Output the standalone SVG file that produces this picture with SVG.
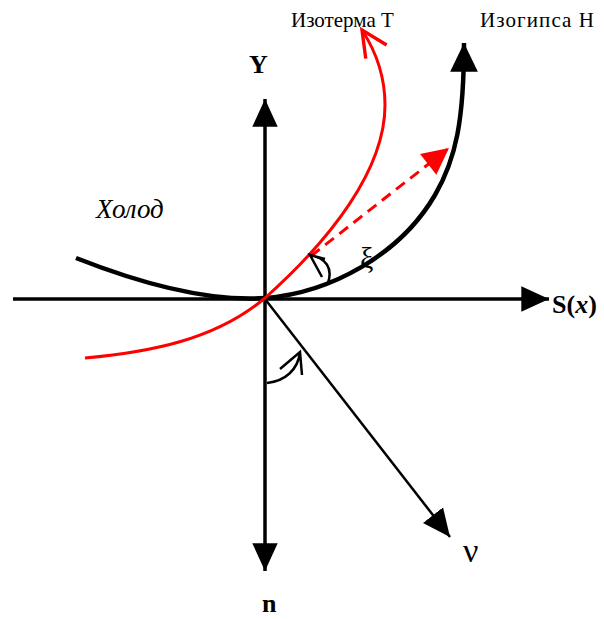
<svg xmlns="http://www.w3.org/2000/svg" width="604" height="619" viewBox="0 0 604 619">
<style>
.ax{stroke:#000;stroke-width:3.5;fill:none}
.blk{stroke:#000;stroke-width:4.5;fill:none}
.red{stroke:#ff0000;stroke-width:3;fill:none}
.dash{stroke:#ff0000;stroke-width:3;fill:none;stroke-dasharray:11 7}
.thin{stroke:#000;stroke-width:2.5;fill:none}
.ang{stroke:#000;stroke-width:2.5;fill:none;stroke-linejoin:miter}
.t{font-family:"Liberation Serif","Times New Roman",serif;fill:#000}
</style>
<defs>
<marker id="ah" markerUnits="userSpaceOnUse" markerWidth="30" markerHeight="30" viewBox="-24 -12 26 24" refX="0" refY="0" orient="auto">
<path d="M0,0 L-24,-11 L-24,11 Z" fill="#000"/>
</marker>
<marker id="ahBig" markerUnits="userSpaceOnUse" markerWidth="32" markerHeight="32" viewBox="-28 -14 30 28" refX="0" refY="0" orient="auto">
<path d="M0,0 L-27,-13 L-27,13 Z" fill="#000"/>
</marker>
<marker id="ahRed" markerUnits="userSpaceOnUse" markerWidth="30" markerHeight="30" viewBox="-23 -12 25 24" refX="0" refY="0" orient="auto">
<path d="M0,0 L-22,-11 L-22,11 Z" fill="#ff0000"/>
</marker>
<marker id="ahOpenRed" markerUnits="userSpaceOnUse" markerWidth="34" markerHeight="34" viewBox="-26 -14 30 28" refX="0" refY="0" orient="auto">
<path d="M-23,-11 L0,0 L-23,11" fill="none" stroke="#ff0000" stroke-width="3"/>
</marker>
</defs>
<g id="connectors">
<line id="axis-x" class="ax" x1="13" y1="299" x2="549" y2="299" marker-end="url(#ah)"/>
<line id="axis-y" class="ax" x1="265" y1="299" x2="265" y2="99" marker-end="url(#ah)"/>
<line id="axis-n" class="ax" x1="265" y1="299" x2="265" y2="571" marker-end="url(#ah)"/>
<line id="nu-line" class="thin" x1="265" y1="299" x2="450" y2="537" marker-end="url(#ah)"/>
<path id="isogypse" class="blk" d="M76,258 Q190,303 265,298 C330,293 400,255 435,195 C456,159 464,120 464,43" marker-end="url(#ahBig)"/>
<path id="isotherm" class="red" d="M85,358 C150,352 215,340 265,298 C330,240 385,170 385,105 C385,75 375,50 362,30" marker-end="url(#ahOpenRed)"/>
<line id="tangent" class="dash" x1="311" y1="256" x2="449" y2="148" marker-end="url(#ahRed)"/>
<path id="angle-xi" class="ang" d="M328,283 C333,268 326,258 310,255 M325,259 L310,255 L322,277"/>
<path id="angle-nu" class="ang" d="M267,383 C285,381 298,370 300,352 M280,369 L300,352 L302,375"/>
</g>
<g id="label-Y"><text class="t" x="249" y="73" font-size="26" font-weight="bold">Y</text></g>
<g id="label-n"><text class="t" x="262" y="612" font-size="26" font-weight="bold">n</text></g>
<g id="label-S"><text class="t" x="552" y="313" font-size="26" font-weight="bold">S(<tspan font-style="italic">x</tspan>)</text></g>
<g id="label-nu"><text class="t" x="463" y="562" font-size="34">ν</text></g>
<g id="label-xi"><text class="t" x="360" y="268" font-size="30">ξ</text></g>
<g id="label-holod"><text class="t" x="96" y="218" font-size="27" font-style="italic">Холод</text></g>
<g id="label-isotherm"><text class="t" x="291" y="27" font-size="21">Изотерма T</text></g>
<g id="label-isogypse"><text class="t" x="480" y="27" font-size="21" textLength="114" lengthAdjust="spacing">Изогипса H</text></g>
</svg>
